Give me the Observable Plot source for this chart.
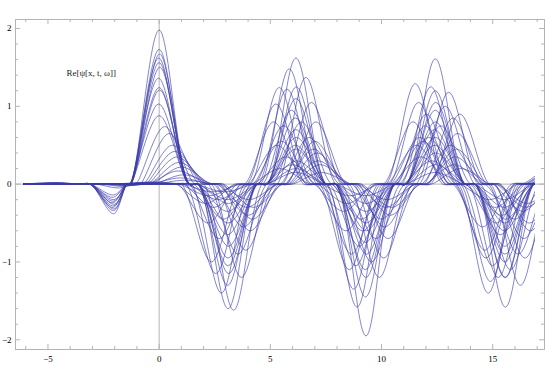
<!DOCTYPE html>
<html><head><meta charset="utf-8">
<script src="https://cdn.jsdelivr.net/npm/d3@7"></script>
<script src="https://cdn.jsdelivr.net/npm/@observablehq/plot@0.6"></script>
<style>body{margin:0;background:#fff}</style>
</head><body><div id="c"></div>
<script>
// Lobe extremum positions (x), alternating sign (+,-,+,...)
const lobeX = [-4.6, -2.05, 0, 3.1, 6.15, 9.3, 12.42, 15.55, 18.7];
// near-zero stretch between successive lobes: [start, end]
const gapX = [[-3.6, -3.1], [-1.45, -1.3], [1.35, 1.75], [4.4, 4.85], [7.5, 7.95],
              [10.6, 11.1], [13.75, 14.2], [16.85, 17.35]];
const xStart = -6.1, xEnd = 16.9;
// per-curve lobe displacement
const shifts = [
  0, 0, 0.02, -0.02, 0, 0.03, -0.03, 0, 0.02, -0.02, 0,
  0.25, 0.45, 0.6, 0.7, 0.8, 0.9, 1.0, 0.85, 1.1, 0.95, 1.15,
  -0.3, -0.4, -0.75, -0.9, -0.55, -0.2, -0.65, -1.0, -0.45, -0.85, -0.15, -0.7
];
// per-curve lobe magnitudes (sign alternates with lobe)
const amps = [
  [0.02, 0.38, 1.98, 1.05, 1.62, 1.95, 1.61, 0.9, 0.3],
  [0.02, 0.34, 1.73, 1.6, 0.7, 1.2, 0.8, 1.2, 0.2],
  [0.01, 0.32, 1.67, 0.8, 1.25, 0.6, 1.05, 1.58, 0.3],
  [0.01, 0.3, 1.62, 1.3, 0.5, 1.45, 0.5, 0.6, 0.1],
  [0.01, 0.28, 1.56, 0.5, 1.1, 0.35, 1.2, 1.0, 0.2],
  [0.01, 0.26, 1.5, 1.15, 0.3, 0.9, 0.25, 0.45, 0.1],
  [0.01, 0.24, 1.36, 0.35, 0.85, 1.1, 0.7, 0.3, 0.1],
  [0.0, 0.22, 1.24, 0.95, 0.2, 0.5, 0.95, 0.8, 0.2],
  [0.0, 0.2, 1.21, 0.25, 0.6, 0.25, 0.4, 1.2, 0.2],
  [0.0, 0.17, 1.03, 0.65, 0.15, 0.75, 0.15, 0.2, 0.05],
  [0.0, 0.14, 0.88, 0.2, 0.45, 0.15, 0.6, 0.5, 0.1],
  [0, 0.05, 0.74, 1.62, 0.8, 1.0, 0.75, 1.1, 0.2],
  [0, 0.03, 0.65, 0.9, 1.37, 0.7, 1.0, 0.45, 0.15],
  [0, 0.02, 0.5, 1.2, 0.6, 1.2, 1.18, 0.9, 0.2],
  [0, 0.02, 0.42, 0.55, 1.05, 0.45, 0.5, 1.3, 0.25],
  [0, 0.01, 0.35, 0.85, 0.45, 0.95, 0.85, 0.35, 0.1],
  [0, 0.01, 0.28, 0.4, 0.8, 0.3, 0.35, 0.95, 0.2],
  [0, 0.01, 0.22, 0.6, 0.3, 0.7, 0.65, 0.25, 0.1],
  [0, 0.0, 0.17, 0.3, 0.55, 0.55, 0.25, 0.7, 0.15],
  [0, 0.0, 0.12, 0.45, 0.25, 0.4, 0.9, 0.5, 0.1],
  [0, 0.0, 0.08, 0.2, 0.4, 0.2, 0.45, 0.3, 0.05],
  [0, 0.0, 0.05, 0.3, 0.15, 0.3, 0.2, 0.6, 0.1],
  [0, 0, 0.03, 1.4, 1.48, 0.8, 0.6, 1.2, 0.3],
  [0, 0, 0.02, 0.7, 1.22, 1.58, 0.9, 0.5, 0.2],
  [0, 0, 0.02, 1.0, 1.24, 1.1, 1.05, 1.4, 0.35],
  [0, 0, 0.01, 0.5, 1.03, 0.6, 1.29, 0.85, 0.3],
  [0, 0, 0.01, 1.15, 0.75, 1.35, 0.55, 1.05, 0.25],
  [0, 0, 0.02, 0.45, 0.95, 0.45, 1.25, 0.65, 0.15],
  [0, 0, 0.01, 0.3, 0.55, 0.9, 0.35, 1.25, 0.3],
  [0, 0, 0.0, 0.25, 0.8, 0.35, 0.8, 0.55, 0.3],
  [0, 0, 0.0, 0.2, 0.35, 1.05, 0.75, 0.3, 0.2],
  [0, 0, 0.0, 0.15, 0.5, 0.25, 0.5, 0.95, 0.3],
  [0, 0, 0.0, 0.1, 0.25, 0.6, 0.3, 0.4, 0.1],
  [0, 0, 0.0, 0.1, 0.2, 0.15, 0.6, 0.2, 0.2]
];
const xMajor = [-5, 0, 5, 10, 15];
const xMinor = [-6, -4, -3, -2, -1, 1, 2, 3, 4, 6, 7, 8, 9, 11, 12, 13, 14, 16, 17];
const yMajor = [-2, -1, 0, 1, 2];
const yMinor = [-1.8, -1.6, -1.4, -1.2, -0.8, -0.6, -0.4, -0.2, 0.2, 0.4, 0.6, 0.8, 1.2, 1.4, 1.6, 1.8];
const labelText = "Re[ψ[x, t, ω]]";

// knots table for the library's line mark
const knots = [];
shifts.forEach((s, k) => {
  knots.push({id: k, x: xStart, y: 0});
  lobeX.forEach((c, j) => {
    knots.push({id: k, x: c + s, y: (j % 2 === 0 ? 1 : -1) * amps[k][j]});
    if (j < gapX.length) {
      knots.push({id: k, x: gapX[j][0] + s, y: 0});
      knots.push({id: k, x: gapX[j][1] + s, y: 0});
    }
  });
});

const W = 545, H = 381, mt = 19, mb = 32, ml = 15, mr = 1;
const iw = W - ml - mr, ih = H - mt - mb;
const gray = "#b4b4b4";
const Lmaj = 5, Lmin = 3;
const fmt = d => d < 0 ? "\u2212" + (-d) : String(d);

const chart = Plot.plot({
  width: W, height: H,
  marginTop: mt, marginBottom: mb, marginLeft: ml, marginRight: mr,
  style: {fontFamily: "'Liberation Serif', serif", fontSize: "9px", background: "#fff"},
  x: {domain: [-6.46, 17.33], label: null},
  y: {domain: [-2.125, 2.115], label: null},
  marks: [
    Plot.ruleX([0], {stroke: gray, strokeWidth: 1}),
    Plot.ruleY([0], {stroke: gray, strokeWidth: 1}),
    Plot.line(knots, {x: "x", y: "y", z: "id", curve: "catmull-rom",
      stroke: "#3c3caa", strokeOpacity: 0.7, strokeWidth: 0.9}),
    Plot.frame({stroke: gray}),
    Plot.tickX(xMajor, {x: d => d, insetTop: ih - Lmaj, stroke: gray}),
    Plot.tickX(xMinor, {x: d => d, insetTop: ih - Lmin, stroke: gray}),
    Plot.tickX(xMajor, {x: d => d, insetBottom: ih - Lmaj, stroke: gray}),
    Plot.tickX(xMinor, {x: d => d, insetBottom: ih - Lmin, stroke: gray}),
    Plot.tickY(yMajor, {y: d => d, insetRight: iw - Lmaj, stroke: gray}),
    Plot.tickY(yMinor, {y: d => d, insetRight: iw - Lmin, stroke: gray}),
    Plot.tickY(yMajor, {y: d => d, insetLeft: iw - Lmaj, stroke: gray}),
    Plot.tickY(yMinor, {y: d => d, insetLeft: iw - Lmin, stroke: gray}),
    Plot.axisX({ticks: xMajor, tickSize: 0, tickPadding: 6, fontSize: 9, tickFormat: fmt}),
    Plot.axisY({ticks: yMajor, tickSize: 0, tickPadding: 4, fontSize: 9, tickFormat: fmt}),
    Plot.text([labelText], {x: -4.17, y: 1.425, text: d => d, textAnchor: "start",
      fontSize: 9, fontFamily: "'Liberation Serif', serif", fill: "#222"})
  ]
});

// clip curves to their sampled x-range, using the chart's own x scale
const xs = chart.scale("x");
const svg = d3.select(chart);
svg.append("defs").append("clipPath").attr("id", "clipcurves")
  .append("rect")
  .attr("x", xs.apply(xStart)).attr("y", 0)
  .attr("width", xs.apply(xEnd) - xs.apply(xStart)).attr("height", H);
svg.selectAll('g[aria-label="line"]').attr("clip-path", "url(#clipcurves)");

document.getElementById("c").appendChild(chart);
</script>
</body></html>
